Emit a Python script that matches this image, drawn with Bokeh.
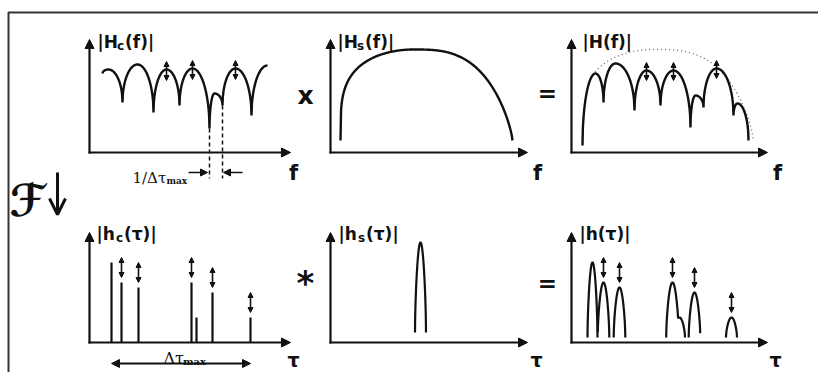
import numpy as np
from bokeh.plotting import figure
from bokeh.models import Range1d, Arrow, NormalHead, OpenHead, ColumnDataSource
from bokeh.core.properties import value
from bokeh.embed import file_html
from bokeh.resources import INLINE

# ---------------------------------------------------------------- data
# Comb response |Hc(f)|: even entries are troughs, odd entries are lobe crests
hc_f_x = [13, 19, 33, 48, 64, 77, 90, 103, 120, 125, 133, 146, 162, 178]
hc_f_y = [79, 83, 50, 88, 40, 83, 47, 84, 24, 59, 47, 84, 37, 87]
hc_f_marked = [5, 7, 11]          # crests carrying a fading marker

# Smooth envelope |Hs(f)|: start, crest, end
hs_f_x = [10, 83, 182]
hs_f_y = [12, 103, 12]

# Product |H(f)|: even entries are troughs, odd entries are crests
h_f_x = [11, 24, 32, 44, 63, 75, 89, 102, 119, 124, 132, 145, 162, 166, 177]
h_f_y = [7, 79, 50, 89, 42, 82, 47, 82, 25, 57, 45, 84, 37, 49, 12]
h_f_marked = [5, 7, 11]
h_f_env_from = 19                 # dotted envelope begins here

# Impulse response |hc(tau)|: echo delays and amplitudes
tau_c = [22, 32, 49, 102, 107, 123, 161]
amp_c = [80, 60, 55, 60, 25, 50, 25]
marked_c = [False, True, True, True, False, True, True]
delay_spread = (0, 6)             # first and last echo spanned by the delay arrow

# Pulse |hs(tau)|
hs_tau_center = 90
hs_tau_amp = 100
hs_tau_halfwidth = 5.5
hs_tau_foot = 10

# Result |h(tau)|: widened echoes
tau_h = [21, 32, 48, 101, 108, 123, 160]
amp_h = [80, 60, 55, 60, 25, 50, 25]
halfwidth_h = [5, 5.8, 5.8, 6.3, 5.5, 5.8, 5.5]
marked_h = [False, True, True, True, False, True, True]
groups_h = [[0], [1], [2], [3, 4], [5], [6]]
foot_h = 5

# ---------------------------------------------------------------- layout
COL_X = [89, 330, 571]
ROW_Y = [152, 342]
AXIS_W = [201, 197, 196]
AXIS_H = [113, 110]
INK = "#111111"
SANS = value("DejaVu Sans")
SERIF = value("DejaVu Serif")


def px(col, row, x, y):
    return COL_X[col] + np.asarray(x, float), ROW_Y[row] - np.asarray(y, float)


def lobes(xs, ys, n=40):
    X, Y = [], []
    for i in range(len(xs) - 1):
        t = np.linspace(0, 1, n)
        x0, x1, y0, y1 = xs[i], xs[i + 1], ys[i], ys[i + 1]
        if i % 2 == 0:
            s = np.sqrt(np.clip(1 - (1 - t) ** 2, 0, 1))
            y = y0 + (y1 - y0) * s
        else:
            s = np.sqrt(np.clip(1 - t ** 2, 0, 1))
            y = y1 + (y0 - y1) * s
        x = x0 + (x1 - x0) * t
        if i:
            x, y = x[1:], y[1:]
        X.extend(x)
        Y.extend(y)
    return np.array(X), np.array(Y)


def envelope(xs, ys, x):
    x0, xc, x1 = xs
    y0, yc, y1 = ys
    y = np.empty_like(x)
    left = x <= xc
    t = (x[left] - x0) / (xc - x0)
    y[left] = y0 + (yc - y0) * np.clip(1 - (1 - t) ** 2, 0, 1) ** 0.26
    u = (x[~left] - xc) / (x1 - xc)
    y[~left] = y1 + (yc - y1) * np.clip(1 - u ** 3, 0, 1) ** 0.76
    return y


def pulse(c, a, hw, foot, x):
    u = (x - c) / hw
    y = np.full_like(x, -np.inf)
    inside = np.abs(u) <= 1
    y[inside] = foot + (a - foot) * np.cos(np.pi / 2 * u[inside]) ** 0.6
    return y


p = figure(width=818, height=372, x_range=Range1d(0, 818), y_range=Range1d(372, 0),
           output_backend="svg", toolbar_location=None, min_border=0,
           x_axis_type=None, y_axis_type=None, outline_line_color=None,
           background_fill_color="white", border_fill_color="white")
p.grid.visible = False

# frame
p.line([8, 8, 818], [372, 12, 12], line_color="#333333", line_width=2)

# axes with arrow heads
ax = dict(xs=[], ys=[], xe=[], ye=[])
for row in range(2):
    for col in range(3):
        ox, oy = COL_X[col], ROW_Y[row]
        ax["xs"] += [ox, ox - 1]
        ax["ys"] += [oy + 1, oy]
        ax["xe"] += [ox, ox + AXIS_W[col]]
        ax["ye"] += [oy - AXIS_H[row], oy]
p.add_layout(Arrow(x_start="xs", y_start="ys", x_end="xe", y_end="ye",
                   source=ColumnDataSource(ax), line_width=2.2, line_color=INK,
                   end=NormalHead(size=9, fill_color=INK, line_color=INK, line_width=1)))

markers = dict(xs=[], ys=[], xe=[], ye=[])


def add_marker(col, row, x, lo, hi):
    x0, y0 = px(col, row, x, lo)
    x1, y1 = px(col, row, x, hi)
    markers["xs"].append(float(x0)); markers["ys"].append(float(y0))
    markers["xe"].append(float(x1)); markers["ye"].append(float(y1))


# |Hc(f)|
x, y = lobes(hc_f_x, hc_f_y)
X, Y = px(0, 0, x, y)
p.line(X, Y, line_color=INK, line_width=2.4)
for i in hc_f_marked:
    add_marker(0, 0, hc_f_x[i], hc_f_y[i] - 11, hc_f_y[i] + 8)

# spacing of the two deepest notches
for i in (8, 10):
    X0, Y0 = px(0, 0, hc_f_x[i], hc_f_y[i])
    X1, Y1 = px(0, 0, hc_f_x[i], -26)
    p.segment(float(X0), float(Y0), float(X1), float(Y1), line_color=INK,
              line_width=1.5, line_dash="4 3")
nx0, _ = px(0, 0, hc_f_x[8], 0)
nx1, _ = px(0, 0, hc_f_x[10], 0)
p.add_layout(Arrow(x_start=float(nx0) - 21, y_start=172, x_end=float(nx0) - 2, y_end=172,
                   line_width=1.6, line_color=INK,
                   end=NormalHead(size=7, fill_color=INK, line_color=INK, line_width=1)))
p.add_layout(Arrow(x_start=float(nx1) + 20, y_start=172, x_end=float(nx1) + 1, y_end=172,
                   line_width=1.6, line_color=INK,
                   end=NormalHead(size=7, fill_color=INK, line_color=INK, line_width=1)))

# |Hs(f)|
xe = np.linspace(hs_f_x[0], hs_f_x[2], 300)
X, Y = px(1, 0, xe, envelope(hs_f_x, hs_f_y, xe))
p.line(X, Y, line_color=INK, line_width=2.4)

# |H(f)| with its dotted envelope
xe = np.linspace(h_f_env_from, hs_f_x[2], 300)
X, Y = px(2, 0, xe, envelope(hs_f_x, hs_f_y, xe))
p.line(X, Y, line_color="#777777", line_width=1.5, line_dash="1 3")
x, y = lobes(h_f_x, h_f_y)
X, Y = px(2, 0, x, y)
p.line(X, Y, line_color=INK, line_width=2.4)
for i in h_f_marked:
    add_marker(2, 0, h_f_x[i], h_f_y[i] - 10, h_f_y[i] + 8)

# |hc(tau)| echoes
X0, Y0 = px(0, 1, tau_c, np.zeros(len(tau_c)))
X1, Y1 = px(0, 1, tau_c, amp_c)
p.segment(X0, Y0, X1, Y1, line_color=INK, line_width=2.2)
for t, a, m in zip(tau_c, amp_c, marked_c):
    if m:
        add_marker(0, 1, t, a + 5, a + 25)
dx0, dy = px(0, 1, tau_c[delay_spread[0]], -21)
dx1, _ = px(0, 1, tau_c[delay_spread[1]], -21)
p.add_layout(Arrow(x_start=float(dx0), y_start=float(dy), x_end=float(dx1), y_end=float(dy),
                   line_width=2, line_color=INK,
                   start=NormalHead(size=8, fill_color=INK, line_color=INK, line_width=1),
                   end=NormalHead(size=8, fill_color=INK, line_color=INK, line_width=1)))

# |hs(tau)|
xt = np.linspace(hs_tau_center - hs_tau_halfwidth, hs_tau_center + hs_tau_halfwidth, 120)
X, Y = px(1, 1, xt, pulse(hs_tau_center, hs_tau_amp, hs_tau_halfwidth, hs_tau_foot, xt))
p.line(X, Y, line_color=INK, line_width=2.2)

# |h(tau)|
for g in groups_h:
    lo = min(tau_h[k] - halfwidth_h[k] for k in g)
    hi = max(tau_h[k] + halfwidth_h[k] for k in g)
    xt = np.linspace(lo, hi, 160)
    yt = np.max([pulse(tau_h[k], amp_h[k], halfwidth_h[k], foot_h, xt) for k in g], axis=0)
    keep = np.isfinite(yt)
    X, Y = px(2, 1, xt[keep], yt[keep])
    p.line(X, Y, line_color=INK, line_width=2.2)
for t, a, m in zip(tau_h, amp_h, marked_h):
    if m:
        add_marker(2, 1, t, a + 5, a + 25)

p.add_layout(Arrow(x_start="xs", y_start="ys", x_end="xe", y_end="ye",
                   source=ColumnDataSource(markers), line_width=1.6, line_color=INK,
                   start=NormalHead(size=5, fill_color=INK, line_color=INK, line_width=1),
                   end=NormalHead(size=5, fill_color=INK, line_color=INK, line_width=1)))


# ---------------------------------------------------------------- text
def txt(x, y, s, size, font=SANS, style="bold", align="left"):
    p.text([x], [y], text=[s], text_font=font, text_font_size=f"{size}px",
           text_font_style=style, text_color=INK, text_align=align,
           text_baseline="alphabetic")


def panel_label(x, base, main, sub, rest):
    txt(x, base, main, 17)
    if sub:
        txt(x + 19.5, base + 4, sub, 12)
        txt(x + 27.5, base, rest, 17)


panel_label(97, 41, "|H", "c", "(f)|")
panel_label(337, 41, "|H", "s", "(f)|")
panel_label(582, 41, "|H(f)|", None, None)
panel_label(96, 233, "|h", "c", "(τ)|")
panel_label(338, 233, "|h", "s", "(τ)|")
panel_label(579, 233, "|h(τ)|", None, None)

for xc in (293, 537, 777):
    txt(xc, 172, "f", 21, align="center")
for xc in (293, 536, 775):
    txt(xc, 359, "τ", 19, align="center")

txt(305, 95, "x", 25, align="center")
txt(547, 92, "=", 23, align="center")
txt(547, 282, "=", 23, align="center")
txt(305, 282, "*", 34, align="center")

txt(132, 177, "1/Δτ", 15, font=SERIF, style="normal")
txt(166, 180, "max", 9, font=SERIF)
txt(163, 358, "Δτ", 16, font=SERIF, style="normal")
txt(182.5, 361, "max", 10, font=SERIF)

# Fourier transform symbol between the rows
txt(9, 200, "ℱ", 44)
p.add_layout(Arrow(x_start=57, y_start=172, x_end=57, y_end=214, line_width=3, line_color=INK,
                   end=OpenHead(size=16, line_width=3, line_color=INK)))

open("out.html", "w").write(file_html(p, INLINE))
